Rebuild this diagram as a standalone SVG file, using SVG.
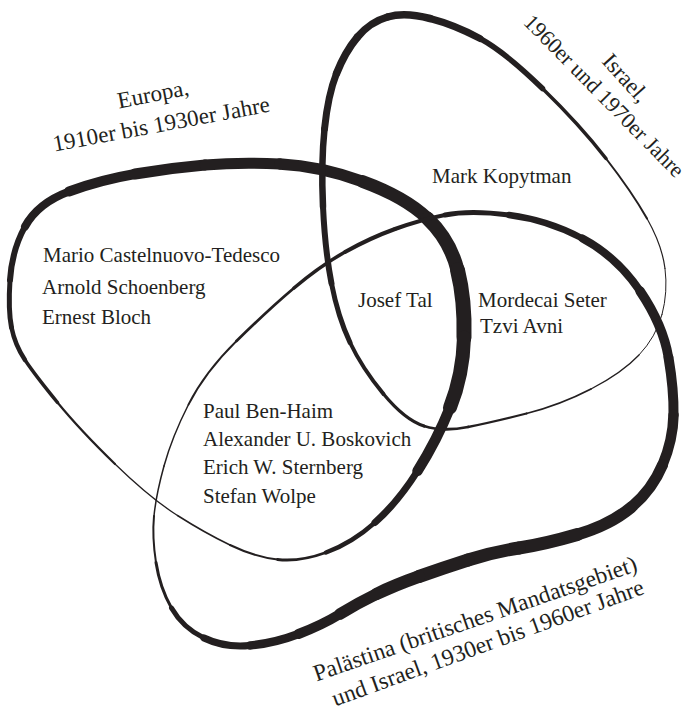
<svg xmlns="http://www.w3.org/2000/svg" width="689" height="711" viewBox="0 0 689 711">
<style>
  .c { fill: none; stroke: #231f20; stroke-linecap: round; stroke-linejoin: round; }
  .t { font-family: "Liberation Serif", "DejaVu Serif", serif; font-size: 21px; fill: #231f20; }
  .l { font-family: "Liberation Serif", "DejaVu Serif", serif; font-size: 23px; fill: #231f20; text-anchor: middle; }
</style>
<rect width="689" height="711" fill="#ffffff"/>

<g id="set-europa">
  <g id="curve-europa">
    <path class="c" stroke-width="5" d="M11.5 327.5 Q8 310 10 280"/>
    <path class="c" stroke-width="6" d="M10 280 Q12 250 25 226.5"/>
    <path class="c" stroke-width="8" d="M25 226.5 Q38 203 69 191.5"/>
    <path class="c" stroke-width="10" d="M69 191.5 Q100 180 135 174"/>
    <path class="c" stroke-width="11" d="M135 174 Q170 168 205 165"/>
    <path class="c" stroke-width="11" d="M205 165 Q240 162 280 164"/>
    <path class="c" stroke-width="11.5" d="M280 164 Q320 166 362.5 181.5"/>
    <path class="c" stroke-width="13" d="M362.5 181.5 Q405 197 427.5 218.5"/>
    <path class="c" stroke-width="14" d="M427.5 218.5 Q450 240 457.5 270"/>
    <path class="c" stroke-width="15" d="M457.5 270 Q465 300 464 337.5"/>
    <path class="c" stroke-width="14" d="M464 337.5 Q463 375 450 407.5"/>
    <path class="c" stroke-width="10.5" d="M450 407.5 Q437 440 417.5 471"/>
    <path class="c" stroke-width="7" d="M417.5 471 Q398 502 375 522.5"/>
    <path class="c" stroke-width="4.5" d="M375 522.5 Q352 543 326 552.5"/>
    <path class="c" stroke-width="2.8" d="M326 552.5 Q300 562 277.5 559.5"/>
    <path class="c" stroke-width="2" d="M277.5 559.5 Q255 557 230 545"/>
    <path class="c" stroke-width="1.5" d="M230 545 Q205 533 177.5 515.5"/>
    <path class="c" stroke-width="1.3" d="M177.5 515.5 Q150 498 115 464"/>
    <path class="c" stroke-width="2.2" d="M115 464 Q80 430 57.5 402.5"/>
    <path class="c" stroke-width="3.5" d="M57.5 402.5 Q35 375 25 360"/>
    <path class="c" stroke-width="4.5" d="M25 360 Q15 345 11.5 327.5"/>
  </g>
  <text class="l" transform="translate(154.5 101.5) rotate(-11)">Europa,</text>
  <text class="l" transform="translate(162.5 131.5) rotate(-10.5)">1910er bis 1930er Jahre</text>
</g>

<g id="set-israel">
  <g id="curve-israel">
    <path class="c" stroke-width="7.5" d="M387.5 17 Q405 12 430 18.5"/>
    <path class="c" stroke-width="7" d="M430 18.5 Q455 25 480 38.5"/>
    <path class="c" stroke-width="5.5" d="M480 38.5 Q505 52 542.5 88.5"/>
    <path class="c" stroke-width="3.5" d="M542.5 88.5 Q580 125 606 158.5"/>
    <path class="c" stroke-width="2" d="M606 158.5 Q632 192 647 218.5"/>
    <path class="c" stroke-width="1.2" d="M647 218.5 Q662 245 665 268.5"/>
    <path class="c" stroke-width="1" d="M665 268.5 Q668 292 662 314.5"/>
    <path class="c" stroke-width="1" d="M662 314.5 Q656 337 639 355"/>
    <path class="c" stroke-width="1.3" d="M639 355 Q622 373 591 389"/>
    <path class="c" stroke-width="1.8" d="M591 389 Q560 405 526.5 413.5"/>
    <path class="c" stroke-width="2.3" d="M526.5 413.5 Q493 422 468 427"/>
    <path class="c" stroke-width="2.8" d="M468 427 Q443 432 424 426"/>
    <path class="c" stroke-width="3.3" d="M424 426 Q405 420 383.5 394"/>
    <path class="c" stroke-width="4" d="M383.5 394 Q362 368 350 342.5"/>
    <path class="c" stroke-width="5" d="M350 342.5 Q338 317 331.5 283.5"/>
    <path class="c" stroke-width="6" d="M331.5 283.5 Q325 250 323 206.5"/>
    <path class="c" stroke-width="6.5" d="M323 206.5 Q321 163 324.5 129"/>
    <path class="c" stroke-width="7" d="M324.5 129 Q328 95 336.5 73.5"/>
    <path class="c" stroke-width="7.5" d="M336.5 73.5 Q345 52 357.5 37"/>
    <path class="c" stroke-width="7.5" d="M357.5 37 Q370 22 387.5 17"/>
  </g>
  <text class="l" transform="translate(620 83) rotate(48)">Israel,</text>
  <text class="l" style="font-size:22px" transform="translate(599 101) rotate(45.5)">1960er und 1970er Jahre</text>
</g>

<g id="set-palaestina">
  <g id="curve-palaestina">
    <path class="c" stroke-width="4" d="M395 229 Q420 220 445 215"/>
    <path class="c" stroke-width="5" d="M445 215 Q470 210 509 215"/>
    <path class="c" stroke-width="6.5" d="M509 215 Q548 220 582.5 238.5"/>
    <path class="c" stroke-width="8" d="M582.5 238.5 Q617 257 640 291"/>
    <path class="c" stroke-width="9.5" d="M640 291 Q663 325 668.5 357.5"/>
    <path class="c" stroke-width="10" d="M668.5 357.5 Q674 390 673.5 415"/>
    <path class="c" stroke-width="10.5" d="M673.5 415 Q673 440 662.5 465"/>
    <path class="c" stroke-width="11" d="M662.5 465 Q652 490 631 507.5"/>
    <path class="c" stroke-width="12" d="M631 507.5 Q610 525 577.5 534.5"/>
    <path class="c" stroke-width="13" d="M577.5 534.5 Q545 544 519 548"/>
    <path class="c" stroke-width="13" d="M519 548 Q493 552 468 560"/>
    <path class="c" stroke-width="13" d="M468 560 Q443 568 419 576.5"/>
    <path class="c" stroke-width="12.5" d="M419 576.5 Q395 585 376.5 594"/>
    <path class="c" stroke-width="11.5" d="M376.5 594 Q358 603 340 614"/>
    <path class="c" stroke-width="10" d="M340 614 Q322 625 298.5 634"/>
    <path class="c" stroke-width="8.5" d="M298.5 634 Q275 643 250 645.5"/>
    <path class="c" stroke-width="7" d="M250 645.5 Q225 648 204 638"/>
    <path class="c" stroke-width="5" d="M204 638 Q183 628 171.5 608"/>
    <path class="c" stroke-width="3" d="M171.5 608 Q160 588 156 562.5"/>
    <path class="c" stroke-width="2" d="M156 562.5 Q152 537 154 516"/>
    <path class="c" stroke-width="1.5" d="M154 516 Q156 495 164 466"/>
    <path class="c" stroke-width="1.5" d="M164 466 Q172 437 188.5 404.5"/>
    <path class="c" stroke-width="1.8" d="M188.5 404.5 Q205 372 236.5 341"/>
    <path class="c" stroke-width="2.8" d="M236.5 341 Q268 310 294 288"/>
    <path class="c" stroke-width="3.5" d="M294 288 Q320 266 345 252"/>
    <path class="c" stroke-width="4" d="M345 252 Q370 238 395 229"/>
  </g>
  <text class="l" style="font-size:23.5px" transform="translate(477.5 626) rotate(-19)">Palästina (britisches Mandatsgebiet)</text>
  <text class="l" style="font-size:23.5px" transform="translate(490.5 650) rotate(-20)">und Israel, 1930er bis 1960er Jahre</text>
</g>

<g id="names-europa">
  <text class="t" x="43" y="262">Mario Castelnuovo-Tedesco</text>
  <text class="t" x="42" y="294">Arnold Schoenberg</text>
  <text class="t" x="42" y="324">Ernest Bloch</text>
</g>
<g id="names-israel">
  <text class="t" x="432" y="183">Mark Kopytman</text>
</g>
<g id="names-all-three">
  <text class="t" x="358" y="307">Josef Tal</text>
</g>
<g id="names-israel-palaestina">
  <text class="t" x="478" y="307">Mordecai Seter</text>
  <text class="t" x="480" y="333">Tzvi Avni</text>
</g>
<g id="names-europa-palaestina">
  <text class="t" x="203" y="418">Paul Ben-Haim</text>
  <text class="t" x="203" y="446">Alexander U. Boskovich</text>
  <text class="t" x="203" y="474">Erich W. Sternberg</text>
  <text class="t" x="203" y="503">Stefan Wolpe</text>
</g>
</svg>
